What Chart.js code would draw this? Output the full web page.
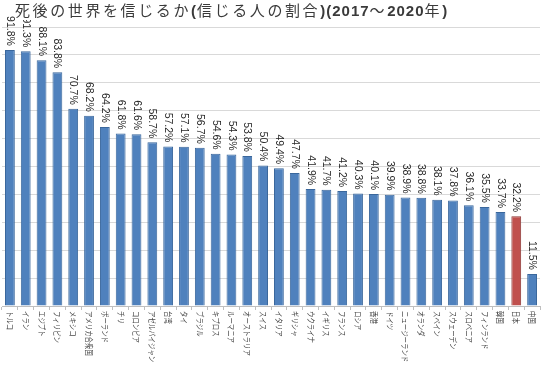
<!DOCTYPE html>
<html>
<head>
<meta charset="utf-8">
<script src="https://cdn.jsdelivr.net/npm/chart.js@4/dist/chart.umd.min.js"></script>
<style>
  body { margin: 0; background: #fff; }
  #wrap { position: relative; width: 550px; height: 367px; }
  #title {
    position: absolute; left: 15px; top: 0px;
    font-family: "Noto Sans CJK JP", sans-serif; font-size: 15px;
    letter-spacing: 2.6px; color: #3a3a3a; white-space: nowrap; z-index: 2;
    line-height: 19px; background: #fff;
  }
  #title b { font-family: "Liberation Sans", sans-serif; letter-spacing: 1px; }
</style>
</head>
<body>
<div id="wrap">
  <div id="title">死後の世界を信じるか<b>(</b>信じる人の割合<b>)(2017</b>～<b>2020</b>年<b>)</b></div>
  <canvas id="chart" width="550" height="367"></canvas>
</div>
<script>
/* データ */
var categories = ["トルコ", "イラン", "エジプト", "フィリピン", "メキシコ", "アメリカ合衆国", "ポーランド", "チリ",
    "コロンビア", "アゼルバイジャン", "台湾", "タイ", "ブラジル", "キプロス", "ルーマニア", "オーストラリア",
    "スイス", "イタリア", "ギリシャ", "ウクライナ", "イギリス", "フランス", "ロシア", "香港", "ドイツ",
    "ニュージーランド", "オランダ", "スペイン", "スウェーデン", "スロベニア", "フィンランド", "韓国", "日本", "中国"];
var values = [91.8, 91.3, 88.1, 83.8, 70.7, 68.2, 64.2, 61.8, 61.6, 58.7, 57.2, 57.1, 56.7, 54.6, 54.3, 53.8,
    50.4, 49.4, 47.7, 41.9, 41.7, 41.2, 40.3, 40.1, 39.9, 38.9, 38.8, 38.1, 37.8, 36.1, 35.5, 33.7, 32.2, 11.5];
var yTicks = [0, 10, 20, 30, 40, 50, 60, 70, 80, 90, 100];

var highlight = "日本";
var barColors = categories.map(c => c == highlight ? "#C0504D" : "#4F81BD");
var borderColors = categories.map(c => c == highlight ? "#8C3836" : "#3A679C");

/* 回転ラベル */
const rotLabels = {
    id: 'rotLabels',
    afterDatasetsDraw(chart) {
        const ctx = chart.ctx;
        const meta = chart.getDatasetMeta(0);
        const bottom = chart.chartArea.bottom;

        ctx.save();
        ctx.fillStyle = "#262626";
        ctx.font = '10.5px "Liberation Sans"';
        ctx.textAlign = "right";
        ctx.textBaseline = "middle";
        meta.data.forEach((bar, i) => {
            ctx.save();
            ctx.translate(bar.x, bar.y - 4);
            ctx.rotate(Math.PI / 2);
            ctx.fillText(values[i].toFixed(1) + "%", 0, 0);
            ctx.restore();
        });

        ctx.fillStyle = "#4a4a4a";
        ctx.font = '8px "Noto Sans CJK JP"';
        ctx.textAlign = "left";
        meta.data.forEach((bar, i) => {
            ctx.save();
            ctx.translate(bar.x, bottom + 5);
            ctx.rotate(Math.PI / 2);
            ctx.scale(0.8, 1);
            ctx.fillText(categories[i], 0, 0);
            ctx.restore();
        });
        ctx.restore();
    }
};

window.onload = function() {
    var ctx = document.getElementById("chart").getContext("2d");
    window.theChart = new Chart(ctx, {
        type: 'bar',
        data: {
            labels: categories,
            datasets: [{
                data: values,
                backgroundColor: barColors,
                borderColor: borderColors,
                borderWidth: 1,
                categoryPercentage: 1,
                barPercentage: 0.62
            }]
        },
        options: {
            responsive: false,
            animation: false,
            layout: { padding: { left: 2, right: 10, top: 27, bottom: 57 } },
            plugins: { legend: { display: false }, tooltip: { enabled: false } },
            scales: {
                x: {
                    grid: { offset: true, drawOnChartArea: false, drawTicks: true, tickLength: 4, color: "#BFBFBF" },
                    border: { color: "#BFBFBF" },
                    ticks: { display: false }
                },
                y: {
                    min: 0,
                    max: 100,
                    afterBuildTicks: axis => { axis.ticks = yTicks.map(v => ({ value: v })); },
                    grid: { color: "#D9D9D9", drawTicks: false },
                    border: { display: false },
                    ticks: { display: false }
                }
            }
        },
        plugins: [rotLabels]
    });
}
</script>
</body>
</html>
